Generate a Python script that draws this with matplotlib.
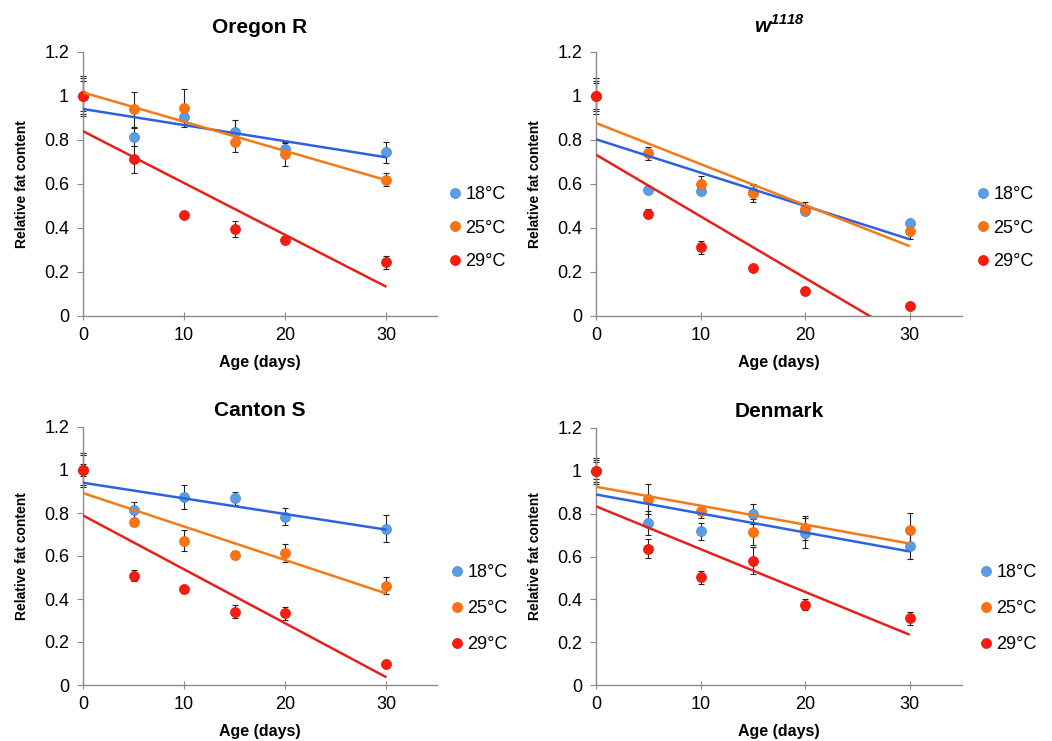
import numpy as np
import matplotlib.pyplot as plt

plt.rcParams['font.family'] = ['Liberation Sans', 'DejaVu Sans']
plt.rcParams['mathtext.fontset'] = 'custom'
plt.rcParams['mathtext.bfit'] = 'Liberation Sans:italic:bold'
plt.rcParams['mathtext.rm'] = 'Liberation Sans'

days = [0, 5, 10, 15, 20, 30]
temps = ['18°C', '25°C', '29°C']

# Oregon R
oregon_18 = [1.0, 0.815, 0.903, 0.838, 0.760, 0.744]
oregon_18_err = [0.08, 0.04, 0.03, 0.055, 0.025, 0.047]
oregon_25 = [1.0, 0.940, 0.945, 0.792, 0.736, 0.620]
oregon_25_err = [0.09, 0.08, 0.087, 0.045, 0.055, 0.03]
oregon_29 = [1.0, 0.712, 0.458, 0.395, 0.344, 0.245]
oregon_29_err = [0.07, 0.06, 0.01, 0.035, 0.012, 0.03]

# w1118
w1118_18 = [1.0, 0.575, 0.567, 0.564, 0.478, 0.423]
w1118_18_err = [0.06, 0.015, 0.015, 0.03, 0.02, 0.01]
w1118_25 = [1.0, 0.739, 0.598, 0.560, 0.488, 0.385]
w1118_25_err = [0.08, 0.03, 0.04, 0.04, 0.03, 0.035]
w1118_29 = [1.0, 0.465, 0.313, 0.219, 0.114, 0.047]
w1118_29_err = [0.07, 0.02, 0.03, 0.01, 0.01, 0.01]

# Canton S
canton_18 = [1.0, 0.812, 0.873, 0.868, 0.783, 0.726]
canton_18_err = [0.08, 0.04, 0.055, 0.03, 0.04, 0.063]
canton_25 = [1.0, 0.758, 0.671, 0.605, 0.614, 0.462]
canton_25_err = [0.07, 0.02, 0.05, 0.02, 0.04, 0.04]
canton_29 = [1.0, 0.509, 0.445, 0.340, 0.333, 0.098]
canton_29_err = [0.03, 0.025, 0.015, 0.03, 0.03, 0.01]

# Denmark
denmark_18 = [1.0, 0.756, 0.717, 0.798, 0.710, 0.647]
denmark_18_err = [0.05, 0.055, 0.04, 0.045, 0.07, 0.06]
denmark_25 = [1.0, 0.868, 0.811, 0.713, 0.733, 0.722]
denmark_25_err = [0.06, 0.07, 0.03, 0.06, 0.055, 0.08]
denmark_29 = [1.0, 0.637, 0.503, 0.581, 0.375, 0.311]
denmark_29_err = [0.04, 0.045, 0.03, 0.065, 0.025, 0.03]

titles = ['Oregon R', r'$\mathbfit{w}^{\mathbfit{1118}}$', 'Canton S', 'Denmark']

marker_colors = ['#5b9ce6', '#ff7212', '#ff1a10']
line_colors = ['#2d62de', '#f47a18', '#e52119']
edge_colors = ['#4a88cf', '#e8680c', '#dd1408']

panels = [
    ([oregon_18, oregon_25, oregon_29], [oregon_18_err, oregon_25_err, oregon_29_err]),
    ([w1118_18, w1118_25, w1118_29], [w1118_18_err, w1118_25_err, w1118_29_err]),
    ([canton_18, canton_25, canton_29], [canton_18_err, canton_25_err, canton_29_err]),
    ([denmark_18, denmark_25, denmark_29], [denmark_18_err, denmark_25_err, denmark_29_err]),
]

W, H = 1052, 741
# axes boxes in pixels: left, right(x=35), top(1.2), bottom(0)
boxes = [(83, 437, 52, 316), (596, 962, 52, 316), (83, 437, 427, 685), (596, 962, 428, 685)]
legend_off = [18, 21, 20, 24]
title_pad = [14, 14, 8, 8]

fig = plt.figure(figsize=(W / 100, H / 100), dpi=100)

for i, ((ys, errs), title) in enumerate(zip(panels, titles)):
    l, r, t, b = boxes[i]
    ax = fig.add_axes([l / W, 1 - b / H, (r - l) / W, (b - t) / H])
    x = np.array(days)
    for j in range(3):
        y = np.array(ys[j])
        eb = ax.errorbar(x, y, yerr=errs[j], fmt='none', ecolor='#222222', elinewidth=0.8,
                         capsize=2.5, capthick=0.8, zorder=2)
        for art in eb.get_children():
            art.set_clip_on(False)
        ax.plot(x, y, 'o', ms=7.2, color=marker_colors[j], mec=edge_colors[j], mew=0.5,
                zorder=3 + j * 0.1, label=temps[j], clip_on=False)
    for j in range(3):
        k, c = np.polyfit(x, np.array(ys[j]), 1)
        xl = np.array([0, 30])
        ax.plot(xl, k * xl + c, color=line_colors[j], lw=1.8, zorder=4, solid_capstyle='butt')

    ax.set_xlim(0, 35)
    ax.set_ylim(0, 1.2)
    ax.set_xticks([0, 10, 20, 30])
    ax.set_yticks([0, 0.2, 0.4, 0.6, 0.8, 1.0, 1.2])
    ax.set_yticklabels(['0', '0.2', '0.4', '0.6', '0.8', '1', '1.2'])
    for s in ['top', 'right']:
        ax.spines[s].set_visible(False)
    for s in ['left', 'bottom']:
        ax.spines[s].set_color('#8c8c8c')
        ax.spines[s].set_linewidth(1.0)
    ax.tick_params(axis='y', direction='out', length=4, color='#8c8c8c', labelsize=13, pad=6)
    ax.tick_params(axis='x', direction='inout', length=6, color='#8c8c8c', labelsize=13, pad=5)
    ax.set_ylabel('Relative fat content', fontsize=10, fontweight='bold', labelpad=11)
    ax.set_xlabel('Age (days)', fontsize=11.5, fontweight='bold', labelpad=8)
    ax.set_title(title, fontsize=15, fontweight='bold', pad=title_pad[i])

    if i < 2:
        leg_y, spacing = 0.333, 0.9
    else:
        leg_y, spacing = 0.296, 1.05
    ax.legend(loc='center left', bbox_to_anchor=(1 + (legend_off[i] - 7) / (r - l), leg_y),
              frameon=False, fontsize=13, handlelength=0.8, handletextpad=0.15,
              borderpad=0, borderaxespad=0, labelspacing=spacing, markerscale=1.0)

fig.savefig('out.png', dpi=100)
